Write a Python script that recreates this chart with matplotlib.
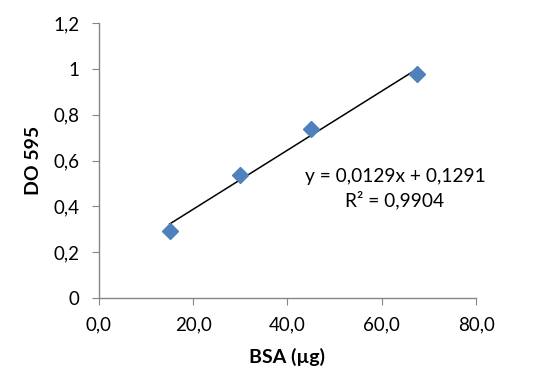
import matplotlib
matplotlib.use("Agg")
import matplotlib.pyplot as plt
import numpy as np

# data
bsa_ug = [15.0, 30.0, 45.0, 67.5]
do595 = [0.293, 0.537, 0.737, 0.977]
slope, intercept, r2 = 0.0129, 0.1291, 0.9904

x_ticks = [0, 20, 40, 60, 80]
x_labels = ["0,0", "20,0", "40,0", "60,0", "80,0"]
y_ticks = [0, 0.2, 0.4, 0.6, 0.8, 1.0, 1.2]
y_labels = ["0", "0,2", "0,4", "0,6", "0,8", "1", "1,2"]

plt.rcParams["font.family"] = ["Lato", "DejaVu Sans"]

fig = plt.figure(figsize=(5.46, 3.91), dpi=100)
ax = fig.add_axes([0.181, 0.238, 0.691, 0.703])

xs = np.array([bsa_ug[0], bsa_ug[-1]])
ax.plot(xs, slope * xs + intercept, color="black", lw=1.1, zorder=2)
ax.plot(bsa_ug, do595, "D", color="#4F81BD", markersize=8.5, zorder=3)

ax.set_xlim(0, 80)
ax.set_ylim(0, 1.2)
ax.set_xticks(x_ticks)
ax.set_xticklabels(x_labels)
ax.set_yticks(y_ticks)
ax.set_yticklabels(y_labels)

for side in ("top", "right"):
    ax.spines[side].set_visible(False)
for side in ("left", "bottom"):
    ax.spines[side].set_color("#868686")
    ax.spines[side].set_linewidth(1.0)
ax.tick_params(axis="both", direction="out", length=5, color="#868686",
               labelsize=13.5, labelcolor="black")
ax.tick_params(axis="x", pad=8)
ax.tick_params(axis="y", pad=9)

ax.set_xlabel("BSA (µg)", fontsize=14, fontweight="bold", labelpad=11)
ax.set_ylabel("DO 595", fontsize=14, fontweight="bold", labelpad=8)

ax.text(62.8, 0.478, f"y = {slope:.4f}x + {intercept:.4f}\nR² = {r2:.4f}".replace(".", ","),
        ha="center", va="center", fontsize=13.8, linespacing=1.35)

fig.savefig("out.png", dpi=100)
